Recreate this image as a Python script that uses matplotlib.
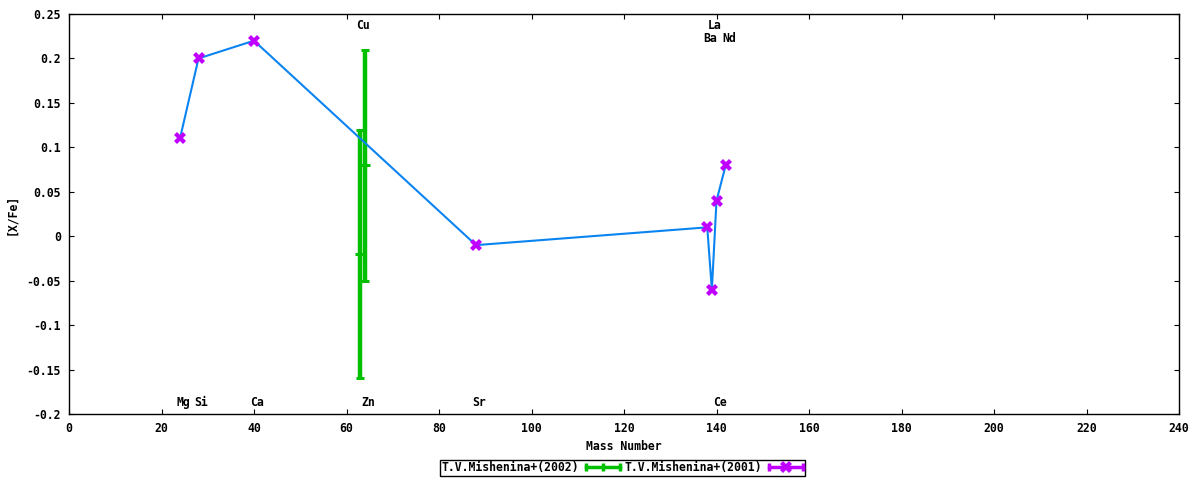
import matplotlib
matplotlib.use('Agg')
import matplotlib.pyplot as plt
from matplotlib.lines import Line2D
from matplotlib.legend_handler import HandlerBase

# T.V.Mishenina+(2001)
mass_2001 = [24, 28, 40, 88, 138, 139, 140, 142]
xfe_2001 = [0.11, 0.20, 0.22, -0.01, 0.01, -0.06, 0.04, 0.08]

# T.V.Mishenina+(2002), with errors
mass_2002 = [63, 64]
xfe_2002 = [-0.02, 0.08]
err_2002 = [0.14, 0.13]

# element labels along the plot
elements = ['Mg', 'Si', 'Ca', 'Cu', 'Zn', 'Sr', 'Ba', 'La', 'Ce', 'Nd']
elem_mass = [24, 28, 40, 63, 64, 88, 138, 139, 140, 142]
elem_row = ['bot', 'bot', 'bot', 'top', 'bot', 'bot', 'mid', 'top', 'bot', 'mid']
row_y = {'top': 0.2375, 'mid': 0.2230, 'bot': -0.1870}

green = '#00c000'
purple = '#c000ff'
blue = '#0a84f0'
font = {'family': 'DejaVu Sans Mono', 'weight': 'bold', 'size': 8.3}


class GnuSample(HandlerBase):
    '''legend sample like gnuplot: line, end caps, point in the middle'''
    def __init__(self, color, marker, ms):
        super().__init__()
        self.color = color
        self.marker = marker
        self.ms = ms

    def create_artists(self, legend, orig_handle, xdescent, ydescent,
                       width, height, fontsize, trans):
        y = height / 2 - ydescent
        x0 = -xdescent
        x1 = x0 + width
        line = Line2D([x0, x1], [y, y], color=self.color, lw=2.5)
        caps = Line2D([x0, x1], [y, y], ls='', marker='|', ms=6,
                      mew=2.5, color=self.color)
        mid = Line2D([(x0 + x1) / 2], [y], ls='', marker=self.marker,
                     ms=self.ms, mew=2.5 if self.marker == '|' else 0,
                     color=self.color)
        for a in (line, caps, mid):
            a.set_transform(trans)
        return [line, caps, mid]


fig = plt.figure(figsize=(12, 4.8), dpi=100)
ax = fig.add_axes([0.0575, 0.1375, 0.925, 0.8333])

ax.errorbar(mass_2002, xfe_2002, yerr=err_2002, fmt='+', color=green,
            ms=7, mew=2.2, elinewidth=3.2, capsize=2.9, capthick=2.4, zorder=2)
ax.plot(mass_2001, xfe_2001, color=blue, lw=1.5, zorder=3)
ax.plot(mass_2001, xfe_2001, ls='', marker='X', ms=9, color=purple,
        mew=0, zorder=4)

for name, m, r in zip(elements, elem_mass, elem_row):
    ax.annotate(name, (m, row_y[r]), xytext=(2.2, 0), textcoords='offset points',
                ha='center', va='center', **font)

ax.set_xlim(0, 240)
ax.set_ylim(-0.2, 0.25)
ax.set_xticks(range(0, 241, 20))
ax.set_yticks([0.25, 0.2, 0.15, 0.1, 0.05, 0, -0.05, -0.1, -0.15, -0.2])
ax.set_yticklabels(['0.25', '0.2', '0.15', '0.1', '0.05', '0',
                    '-0.05', '-0.1', '-0.15', '-0.2'])
ax.tick_params(direction='in', length=3.5, width=0.8, top=True, right=True,
               pad=6, labelsize=8.3)
for lab in ax.get_xticklabels() + ax.get_yticklabels():
    lab.set_fontfamily('DejaVu Sans Mono')
    lab.set_fontweight('bold')
for s in ax.spines.values():
    s.set_linewidth(1)

ax.set_xlabel('Mass Number', fontdict=font, labelpad=3)
ax.set_ylabel('[X/Fe]', fontdict=font, labelpad=6)

h1 = Line2D([], [], color=green)
h2 = Line2D([], [], color=purple)
leg = fig.legend([h1, h2], ['T.V.Mishenina+(2002)', 'T.V.Mishenina+(2001)'],
                 handler_map={h1: GnuSample(green, '|', 6),
                              h2: GnuSample(purple, 'X', 8)},
                 loc='center', bbox_to_anchor=(0.5188, 0.025), ncol=2,
                 markerfirst=False, handlelength=3.0, handletextpad=0.55,
                 columnspacing=0.4, borderpad=0.15, borderaxespad=0,
                 fancybox=False, edgecolor='black', framealpha=1,
                 prop={'family': 'DejaVu Sans Mono', 'weight': 'bold', 'size': 8.3})
leg.get_frame().set_linewidth(1)

fig.savefig('out.png', dpi=100)
